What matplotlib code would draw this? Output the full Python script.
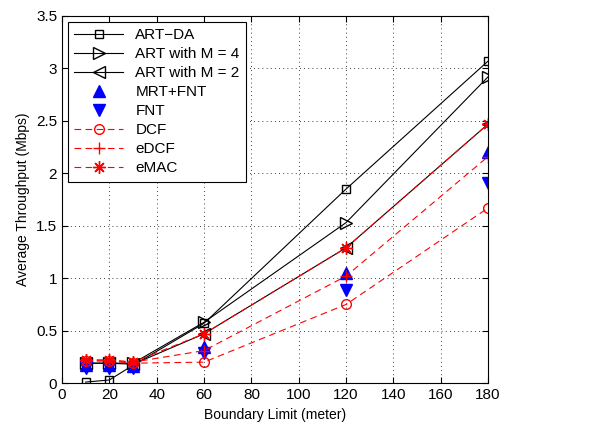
import matplotlib
matplotlib.use("Agg")
import matplotlib.pyplot as plt

plt.rcParams["font.family"] = ["Liberation Sans", "DejaVu Sans"]

x = [10, 20, 30, 60, 120, 180]
art_da = [0.01, 0.03, 0.17, 0.57, 1.85, 3.07]
art_m4 = [0.19, 0.19, 0.19, 0.58, 1.53, 2.92]
art_m2 = [0.19, 0.19, 0.18, 0.47, 1.29, 2.47]
mrt_fnt = [0.17, 0.17, 0.16, 0.34, 1.05, 2.20]
fnt = [0.14, 0.14, 0.14, 0.29, 0.89, 1.91]
dcf = [0.21, 0.21, 0.19, 0.20, 0.75, 1.67]
edcf = [0.22, 0.22, 0.20, 0.31, 1.02, 2.16]
emac = [0.22, 0.22, 0.20, 0.47, 1.29, 2.47]

fig = plt.figure(figsize=(5.96, 4.30), dpi=100)
ax = fig.add_axes([0.104, 0.109, 0.715, 0.854])

ax.plot(x, art_da, "k-", marker="s", mfc="none", ms=6, lw=0.8, label="ART\u2212DA")
ax.plot(x, art_m4, "k-", marker=">", mfc="none", ms=8, lw=0.8, label="ART with M = 4")
ax.plot(x, art_m2, "k-", marker="<", mfc="none", ms=8, lw=0.8, label="ART with M = 2")
ax.plot(x, mrt_fnt, ls="none", marker="^", color="blue", ms=8, label="MRT+FNT")
ax.plot(x, fnt, ls="none", marker="v", color="blue", ms=8, label="FNT")
ax.plot(x, dcf, "r--", marker="o", mfc="none", ms=7, lw=0.8, dashes=(6, 4), label="DCF")
ax.plot(x, edcf, "r--", marker="+", ms=9, lw=0.8, dashes=(6, 4), label="eDCF")
ax.plot(x, emac, "r--", marker=(8, 2, 0), ms=9, lw=0.8, dashes=(6, 4), label="eMAC")

ax.set_xlim(0, 180)
ax.set_ylim(0, 3.5)
ax.set_xticks(range(0, 181, 20))
ax.set_yticks([0, 0.5, 1, 1.5, 2, 2.5, 3, 3.5])
ax.set_yticklabels(["0", "0.5", "1", "1.5", "2", "2.5", "3", "3.5"])
ax.tick_params(direction="in", labelsize=11, top=True, right=True, length=4)
ax.grid(True, ls=(0, (1, 4)), color="black", lw=0.6)
ax.set_xlabel("Boundary Limit (meter)", fontsize=10)
ax.set_ylabel("Average Throughput (Mbps)", fontsize=10)

leg = ax.legend(loc="upper left", fontsize=11, numpoints=1, handlelength=3.2,
                borderaxespad=0.4, labelspacing=0.33, fancybox=False,
                edgecolor="black", framealpha=1)
leg.get_frame().set_linewidth(0.8)

fig.savefig("out.png", dpi=100)
